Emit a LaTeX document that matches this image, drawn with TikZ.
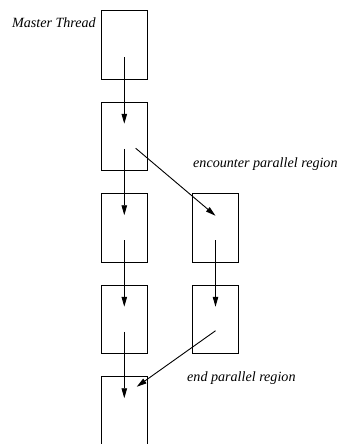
\documentclass[tikz,border=0pt]{standalone}
\usepackage{fontspec}
\setmainfont{Liberation Serif}
\usetikzlibrary{arrows.meta,calc}
\begin{document}
\begin{tikzpicture}[x=1pt,y=-1pt,
  threadbox/.style={draw,line width=0.9pt,minimum width=46pt,minimum height=68.5pt,inner sep=0pt},
  flow/.style={line width=0.9pt,-{Triangle[length=10pt,width=5.5pt]}},
  caption/.style={inner sep=0pt,font=\fontsize{14.1}{16}\selectfont\itshape}]
  \useasboundingbox (0,0) rectangle (340,444);
  \clip (0,0) rectangle (340,444);
  % master thread column
  \node[threadbox] (m1) at (124.3,44.75) {};
  \node[threadbox] (m2) at (124.3,136.25) {};
  \node[threadbox] (m3) at (124.3,227.75) {};
  \node[threadbox] (m4) at (124.3,319.25) {};
  \node[threadbox] (m5) at (124.3,410.75) {};
  % worker thread column
  \node[threadbox] (w1) at (215.5,227.75) {};
  \node[threadbox] (w2) at (215.5,319.25) {};
  % labels
  \node[caption,anchor=base east] (lmaster) at (96,27.5) {Master Thread};
  \node[caption,anchor=base west] (lenc) at (193,167) {encounter parallel region};
  \node[caption,anchor=base west] (lend) at (187,381.5) {end parallel region};
  % sequential flow of the master thread
  \foreach \a/\b in {m1/m2,m2/m3,m3/m4,m4/m5}
    \draw[flow] ($(\a.center)+(0,12.5)$) -- ($(\b.center)+(0,-12.5)$);
  % fork into the parallel region
  \draw[flow] ($(m2.center)+(11.4,12)$) -- ($(w1.center)+(0,-12)$);
  \draw[flow] ($(w1.center)+(0,12.5)$) -- ($(w2.center)+(0,-12.5)$);
  % join back to the master thread
  \draw[flow] ($(w2.center)+(0,11.5)$) -- ($(m5.center)+(12.4,-24)$);
\end{tikzpicture}
\end{document}
